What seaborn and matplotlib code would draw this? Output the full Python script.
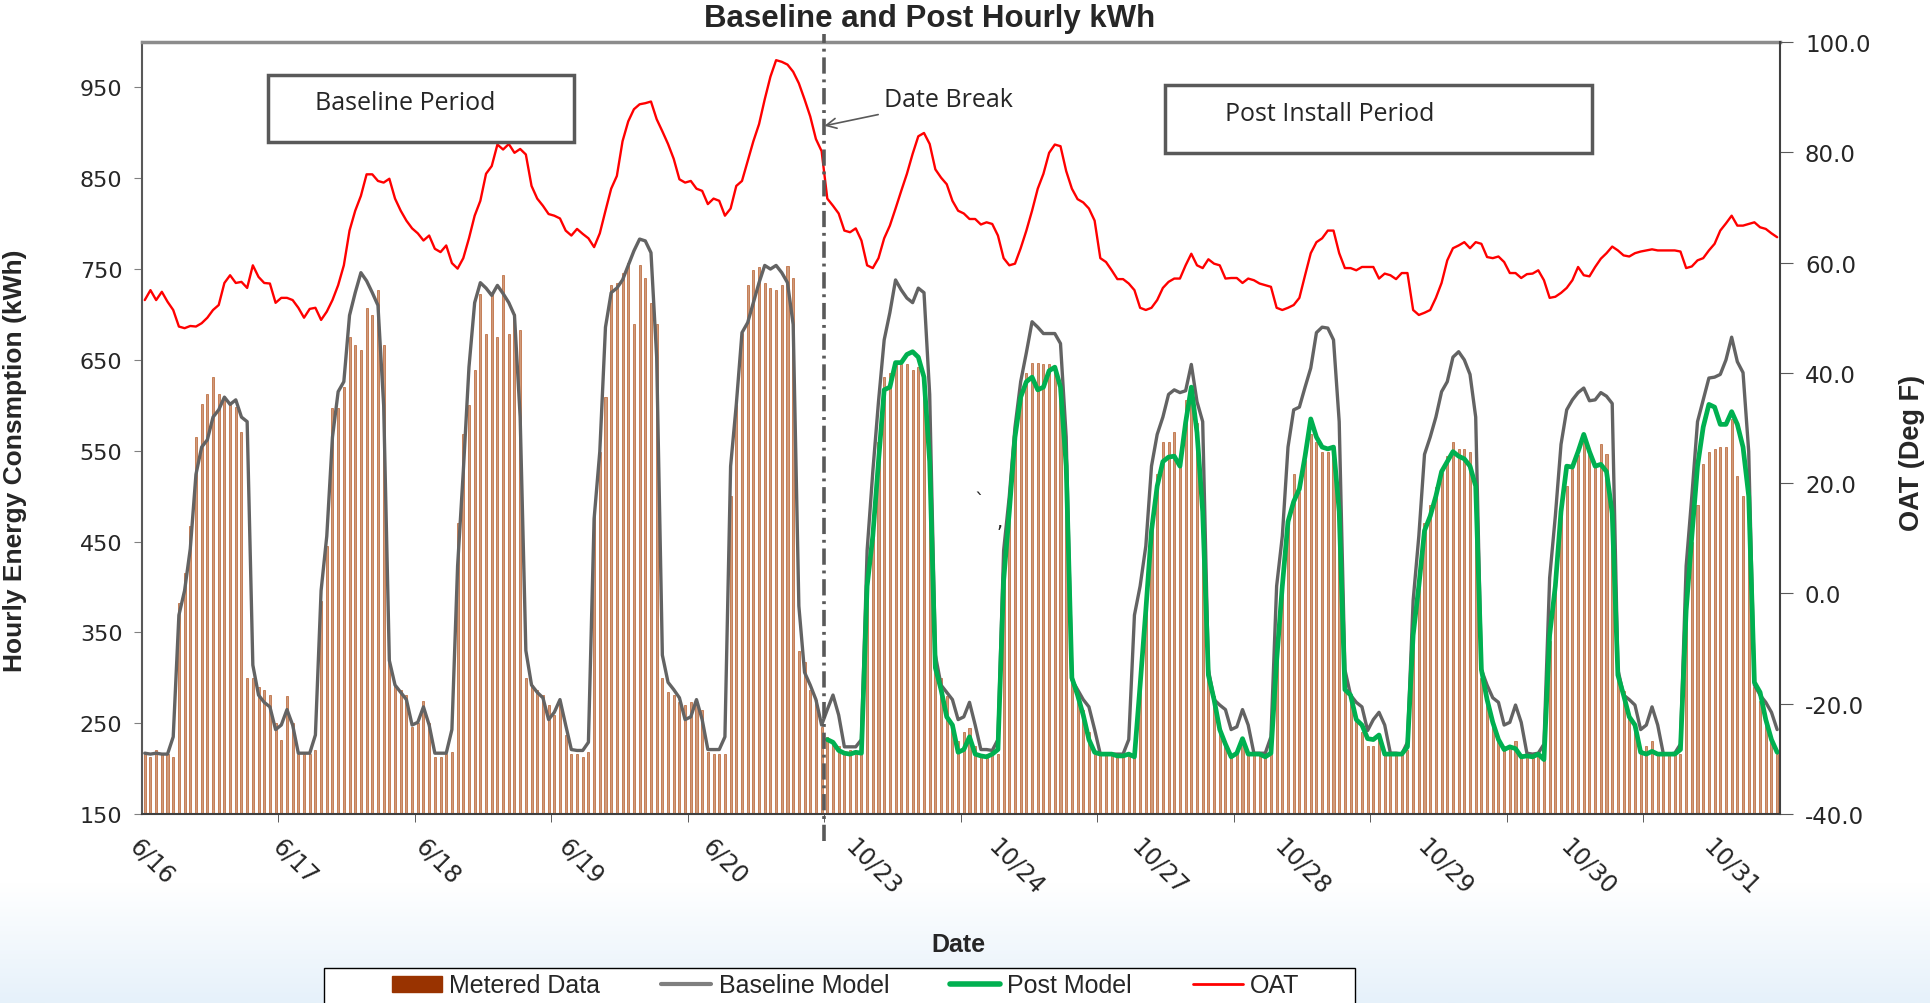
import matplotlib
matplotlib.use("Agg")
import matplotlib.pyplot as plt
import seaborn as sns
import numpy as np
from matplotlib.patches import Patch, Rectangle
from matplotlib.lines import Line2D

sns.set_style("white")
plt.rcParams["font.family"] = ["DejaVu Sans"]

# Data (hourly, 24 values per day)
day_labels = ["6/16", "6/17", "6/18", "6/19", "6/20", "10/23", "10/24",
              "10/27", "10/28", "10/29", "10/30", "10/31"]

metered_by_day = [
    [216, 213, 220, 216, 216, 213, 382, 415, 467, 565, 601, 612, 631, 612, 609, 604, 598, 571, 300, 300, 290, 287, 281, 250],
    [232, 280, 250, 216, 216, 216, 220, 385, 445, 597, 597, 620, 675, 666, 661, 707, 699, 727, 666, 317, 292, 287, 281, 246],
    [250, 275, 250, 213, 213, 216, 218, 470, 568, 600, 639, 722, 678, 722, 675, 743, 678, 700, 683, 300, 292, 287, 281, 270],
    [259, 273, 237, 216, 216, 213, 218, 478, 549, 609, 732, 735, 746, 757, 689, 754, 740, 713, 689, 300, 284, 281, 273, 270],
    [273, 270, 265, 218, 216, 216, 216, 500, 600, 680, 732, 749, 752, 735, 729, 727, 732, 753, 740, 330, 317, 287, 276, 246],
    [235, 230, 225, 216, 220, 216, 216, 400, 470, 560, 631, 636, 645, 645, 645, 639, 642, 630, 540, 315, 300, 280, 250, 230],
    [240, 245, 225, 216, 216, 216, 216, 420, 490, 570, 610, 636, 647, 647, 645, 645, 642, 620, 530, 300, 285, 265, 240, 216],
    [216, 216, 216, 216, 216, 216, 216, 300, 380, 470, 524, 560, 560, 571, 540, 606, 620, 580, 480, 300, 280, 245, 225, 216],
    [216, 230, 216, 216, 216, 216, 216, 320, 400, 470, 524, 505, 540, 568, 560, 549, 549, 552, 480, 290, 280, 255, 240, 225],
    [225, 235, 216, 216, 216, 216, 220, 340, 400, 470, 490, 510, 527, 544, 560, 552, 552, 549, 500, 300, 275, 250, 235, 225],
    [225, 230, 216, 216, 216, 216, 216, 340, 400, 480, 511, 530, 545, 560, 550, 535, 557, 546, 480, 300, 285, 260, 245, 220],
    [225, 230, 216, 216, 216, 216, 216, 360, 450, 490, 535, 549, 552, 554, 554, 585, 522, 500, 470, 290, 275, 250, 230, 216],
]

baseline_by_day = [
    [217, 216, 217, 216, 216, 235, 369, 396, 442, 524, 554, 562, 587, 595, 609, 601, 606, 587, 582, 314, 281, 273, 268, 243],
    [248, 265, 248, 217, 217, 217, 237, 396, 456, 565, 615, 626, 699, 724, 746, 737, 724, 710, 600, 319, 292, 284, 276, 248],
    [251, 268, 248, 217, 217, 217, 243, 423, 527, 642, 713, 735, 729, 721, 732, 723, 713, 699, 587, 330, 292, 284, 278, 254],
    [262, 276, 248, 221, 220, 220, 229, 475, 549, 686, 724, 729, 738, 754, 770, 783, 781, 768, 653, 325, 295, 287, 278, 254],
    [257, 276, 254, 221, 221, 221, 235, 533, 601, 680, 691, 713, 735, 754, 750, 754, 746, 735, 689, 379, 306, 292, 276, 248],
    [265, 281, 259, 224, 224, 224, 232, 440, 527, 604, 672, 702, 738, 727, 718, 713, 729, 724, 612, 325, 292, 284, 276, 254],
    [257, 273, 248, 221, 221, 220, 232, 440, 500, 576, 626, 658, 692, 686, 679, 679, 679, 668, 565, 298, 287, 276, 268, 243],
    [216, 216, 216, 216, 216, 232, 369, 401, 445, 533, 568, 587, 612, 617, 614, 616, 645, 604, 582, 309, 276, 270, 265, 243],
    [246, 265, 248, 217, 217, 217, 235, 401, 456, 554, 595, 598, 620, 641, 680, 686, 685, 672, 582, 309, 281, 273, 268, 242],
    [254, 262, 248, 217, 217, 216, 229, 385, 456, 546, 565, 587, 615, 626, 653, 659, 650, 634, 587, 309, 292, 278, 273, 248],
    [251, 270, 251, 217, 216, 217, 227, 410, 478, 557, 595, 606, 614, 619, 605, 606, 614, 610, 602, 309, 281, 276, 270, 243],
    [248, 268, 248, 216, 216, 217, 227, 423, 500, 582, 606, 630, 631, 634, 650, 675, 648, 636, 549, 292, 281, 273, 262, 243],
]

# post model only exists for the post install days (10/23 onward)
post_by_day = [
    [232, 229, 220, 217, 216, 218, 217, 401, 456, 538, 617, 620, 647, 647, 656, 659, 653, 631, 538, 311, 287, 257, 248, 218],
    [221, 235, 216, 214, 213, 216, 221, 407, 483, 565, 609, 626, 631, 617, 620, 638, 642, 620, 533, 300, 281, 259, 232, 218],
    [216, 216, 216, 214, 214, 216, 213, 292, 374, 462, 511, 538, 543, 544, 533, 581, 620, 570, 483, 303, 276, 243, 227, 213],
    [217, 233, 216, 216, 216, 213, 217, 319, 401, 472, 494, 508, 544, 585, 565, 554, 552, 554, 483, 287, 281, 254, 248, 233],
    [232, 237, 216, 216, 216, 216, 224, 347, 401, 462, 478, 500, 527, 538, 549, 544, 541, 533, 511, 309, 276, 251, 232, 221],
    [224, 222, 213, 214, 213, 216, 210, 347, 401, 483, 533, 532, 549, 568, 549, 533, 535, 527, 481, 303, 281, 257, 248, 218],
    [216, 219, 216, 216, 216, 216, 221, 374, 456, 533, 576, 601, 598, 579, 579, 593, 579, 554, 500, 295, 284, 254, 232, 218],
]

oat_by_day = [
    [53.2, 55.0, 53.2, 54.7, 52.9, 51.4, 48.4, 48.1, 48.5, 48.4, 49.0, 50.0, 51.4, 52.3, 56.3, 57.7, 56.3, 56.5, 55.4, 59.5, 57.4, 56.3, 56.2, 52.7],
    [53.6, 53.6, 53.2, 51.8, 50.0, 51.6, 51.8, 49.6, 51.1, 53.2, 55.9, 59.5, 65.8, 69.4, 72.1, 76.0, 76.0, 74.8, 74.5, 75.2, 71.6, 69.4, 67.6, 66.2],
    [65.3, 64.0, 64.9, 62.5, 61.9, 63.1, 59.9, 58.9, 60.8, 64.4, 68.5, 71.2, 76.1, 77.5, 81.4, 80.5, 81.5, 79.9, 80.6, 79.6, 73.9, 71.6, 70.3, 68.8],
    [68.5, 68.0, 65.8, 64.9, 66.1, 65.2, 64.4, 62.8, 65.3, 69.4, 73.4, 75.7, 82.0, 85.6, 87.8, 88.7, 88.9, 89.2, 86.0, 83.8, 81.5, 78.8, 75.1, 74.5],
    [74.8, 73.4, 73.0, 70.6, 71.6, 71.2, 68.5, 69.8, 73.9, 74.8, 78.4, 82.0, 85.1, 89.6, 93.7, 96.7, 96.4, 95.9, 94.6, 92.5, 89.6, 86.5, 82.4, 80.2],
    [71.6, 70.3, 68.9, 65.8, 65.5, 66.2, 64.0, 59.5, 59.0, 60.8, 64.4, 66.7, 69.8, 73.0, 76.1, 79.7, 82.9, 83.5, 81.5, 76.9, 75.4, 74.2, 71.2, 69.4],
    [68.9, 67.9, 67.9, 66.9, 67.3, 67.0, 64.9, 60.8, 59.5, 59.8, 62.6, 65.8, 69.4, 73.4, 76.1, 79.9, 81.4, 81.1, 76.6, 73.4, 71.5, 70.9, 69.8, 67.6],
    [60.8, 60.1, 58.6, 57.0, 57.0, 56.2, 55.0, 51.8, 51.4, 51.8, 53.2, 55.4, 56.5, 57.1, 57.1, 59.5, 61.6, 59.5, 59.0, 60.6, 59.8, 59.5, 57.1, 57.2],
    [57.2, 56.3, 57.1, 56.8, 56.2, 55.9, 55.6, 51.8, 51.4, 51.8, 52.3, 53.6, 57.7, 61.7, 63.7, 64.4, 65.8, 65.8, 61.7, 59.0, 59.0, 58.6, 59.2, 59.2],
    [59.2, 57.1, 58.0, 57.7, 57.0, 58.1, 58.1, 51.4, 50.5, 50.9, 51.4, 53.6, 56.3, 60.4, 62.6, 63.1, 63.7, 62.6, 63.7, 63.4, 61.0, 60.8, 61.1, 60.1],
    [58.1, 58.1, 57.2, 57.9, 58.0, 58.6, 56.8, 53.6, 53.8, 54.5, 55.4, 56.8, 59.2, 57.7, 57.5, 59.2, 60.7, 61.7, 62.9, 62.2, 61.3, 61.1, 61.7, 62.0],
    [62.2, 62.4, 62.2, 62.2, 62.2, 62.2, 62.0, 59.0, 59.3, 60.4, 60.8, 62.2, 63.4, 65.8, 67.1, 68.5, 66.7, 66.7, 67.0, 67.3, 66.4, 66.1, 65.3, 64.6],
]

metered = sum(metered_by_day, [])
baseline = sum(baseline_by_day, [])
post = sum(post_by_day, [])
oat = sum(oat_by_day, [])
hours = list(range(len(metered)))
post_hours = hours[len(hours) - len(post):]
break_x = post_hours[0] - 0.5

fig = plt.figure(figsize=(19.31, 10.04), dpi=100)

# faint blue wash at the bottom of the page
bg = fig.add_axes([0, 0, 1, 0.12], zorder=-5)
grad = np.linspace(0, 1, 50).reshape(-1, 1)
bg.imshow(grad, aspect="auto", cmap=matplotlib.colors.LinearSegmentedColormap.from_list("w", ["#e6f1fa", "#ffffff"]),
          extent=[0, 1, 0, 1], origin="lower")
bg.axis("off")

ax = fig.add_axes([0.0735, 0.1882, 0.8483, 0.769])
sns.barplot(x=hours, y=metered, ax=ax, native_scale=True, color="#cf9a7a", saturation=1,
            width=0.36, edgecolor="#b3541f", linewidth=0.45)
sns.lineplot(x=hours, y=baseline, ax=ax, color="#636363", lw=2.4)
sns.lineplot(x=post_hours, y=post, ax=ax, color="#00b050", lw=3.4)
ax.set_xlim(-0.5, len(hours) - 0.5)
ax.set_ylim(150, 1000)
ax.set_yticks(range(150, 1000, 100))
# tick marks at the day boundaries, labels drift slightly like the original
ax.set_xticks([24 * d - 0.5 for d in range(len(day_labels))], minor=True)
ax.set_xticks([25.15 * d - 0.5 for d in range(len(day_labels))])
ax.set_xticklabels(day_labels, rotation=-45, ha="left", va="top", rotation_mode="anchor", fontsize=17)
ax.tick_params(axis="y", direction="out", length=6, color="#808080", labelsize=16, pad=8, left=True)
ax.tick_params(axis="x", which="major", length=0, pad=14)
ax.tick_params(axis="x", which="minor", direction="out", length=6, color="#404040", bottom=True)
ax.set_xlabel("")
ax.set_ylabel("")
ax.spines["top"].set_color("#8c8c8c")
ax.spines["top"].set_linewidth(2.5)
ax.spines["left"].set_color("#595959")
ax.spines["left"].set_linewidth(1.5)
ax.spines["bottom"].set_color("#404040")
ax.spines["bottom"].set_linewidth(1.5)
ax.spines["right"].set_visible(False)

ax2 = ax.twinx()
sns.lineplot(x=hours, y=oat, ax=ax2, color="#ff0000", lw=1.7)
ax2.set_ylim(-40, 100)
ax2.set_yticks(range(-40, 101, 20))
ax2.set_yticklabels([f"{v:.1f}" for v in range(-40, 101, 20)])
ax2.tick_params(axis="y", direction="out", length=9, color="#595959", labelsize=16.5, pad=9, right=True)
ax2.set_ylabel("")
for s in ["top", "left", "bottom"]:
    ax2.spines[s].set_visible(False)
ax2.spines["right"].set_color("#404040")
ax2.spines["right"].set_linewidth(1.5)

# date break line
ax2.plot([break_x, break_x], [-44.8, 101.5], color="#595959", lw=2.6,
         linestyle=(0, (4.5, 1.6, 0.8, 1.6)), clip_on=False, zorder=4)
ax2.annotate("Date Break", xy=(break_x, 84.8), xytext=(130, 89.5),
             fontsize=18, family="Open Sans", va="center", ha="left",
             arrowprops=dict(arrowstyle="->", color="#595959", lw=1.2, shrinkA=2, shrinkB=0))

# period boxes
for (x0, y0, w, h, tx, ty, label) in [
    (0.0769, 0.870, 0.1868, 0.087, 0.1056, 0.921, "Baseline Period"),
    (0.6245, 0.856, 0.2605, 0.088, 0.661, 0.907, "Post Install Period"),
]:
    ax2.add_patch(Rectangle((x0, y0), w, h, transform=ax2.transAxes, facecolor="white",
                            edgecolor="#595959", lw=2.5, zorder=6))
    ax2.text(tx, ty, label, transform=ax2.transAxes, fontsize=18, family="Open Sans",
             va="center", ha="left", zorder=7)

fig.text(979 / 1931, 1 - 502 / 1004, "`", fontsize=14, ha="center", va="center")
fig.text(1000 / 1931, 1 - 522 / 1004, ",", fontsize=14, ha="center", va="center")

# titles and axis labels
narrow = ["Liberation Sans Narrow", "Liberation Sans", "DejaVu Sans"]
fig.text(0.4816, 0.981, "Baseline and Post Hourly kWh", fontsize=22.5, fontweight="bold",
         family=narrow, ha="center", va="center")
fig.text(0.0078, 0.541, "Hourly Energy Consmption (kWh)", fontsize=19, fontweight="bold",
         family=narrow, rotation=90, ha="center", va="center")
fig.text(0.990, 0.549, "OAT (Deg F)", fontsize=19.5, fontweight="bold",
         family=narrow, rotation=90, ha="center", va="center")
fig.text(0.4966, 0.0588, "Date", fontsize=18, fontweight="bold",
         family=narrow, ha="center", va="center")

# legend: frame drawn separately so the side padding matches
fig.add_artist(Rectangle((0.1678, -0.01), 0.5339, 0.0451, transform=fig.transFigure,
                         facecolor="white", edgecolor="#000000", lw=1.0, zorder=2))
handles = [
    Patch(facecolor="#993300", edgecolor="#993300"),
    Line2D([], [], color="#7f7f7f", lw=3),
    Line2D([], [], color="#00b050", lw=4),
    Line2D([], [], color="#ff0000", lw=2),
]
leg = fig.legend(handles, ["Metered Data", "Baseline Model", "Post Model", "OAT"],
                 loc="center left", bbox_to_anchor=(0.203, 0.0, 0.470, 0.035), mode="expand",
                 ncol=4, frameon=False, handlelength=2.0, handleheight=0.6, handletextpad=0.3,
                 borderpad=0.0, borderaxespad=0.0,
                 prop={"family": narrow, "size": 18})
leg.set_zorder(3)

fig.savefig("out.png", dpi=100)
